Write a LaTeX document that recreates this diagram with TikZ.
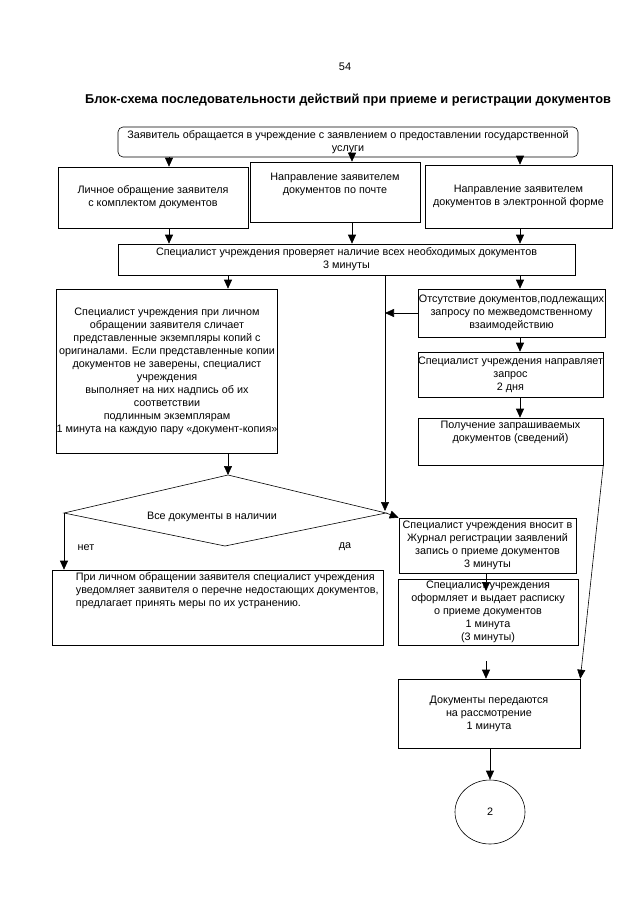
\documentclass[tikz,border=0pt]{standalone}
\usepackage{fontspec}
\setmainfont{Liberation Sans}
\usetikzlibrary{arrows.meta,shapes.geometric}
\newcommand\bxfont{\fontsize{10.8}{13}\selectfont}
\begin{document}
\begin{tikzpicture}[x=1pt,y=-1pt,
  box/.style={draw, line width=0.6pt, inner sep=0pt, align=center, font=\bxfont},
  txt/.style={inner sep=0pt, align=center, font=\bxfont},
  arr/.style={line width=0.6pt, -{Triangle[width=8pt,length=9pt]}},
  ln/.style={line width=0.6pt}]
\fill[white] (0,0) rectangle (640,905);
\useasboundingbox (0,0) rectangle (640,905);

% x positions
\coordinate (xa) at (169,0);
\coordinate (xb) at (352,0);
\coordinate (xc) at (520,0);
\coordinate (xd) at (228,0);
\coordinate (vl) at (385,0);
\coordinate (xe) at (486,0);
\coordinate (xf) at (490,0);

\node[txt, font=\fontsize{11}{13}\selectfont] (pg) at (345,67) {54};
\node[txt, font=\fontsize{12.8}{15}\selectfont\bfseries] (title) at (348,100) {Блок-схема последовательности действий при приеме и регистрации документов};

\node[box, rounded corners=5pt, minimum width=460, minimum height=30] (top) at (348,142)
 {Заявитель обращается в учреждение с заявлением о предоставлении государственной\\услуги};

\node[box, minimum width=190, minimum height=61] (b1) at (153,197.5)
 {Личное обращение заявителя\\с комплектом документов};
\node[box, minimum width=170, minimum height=60] (b2) at (335,192)
 {Направление заявителем\\документов по почте\\[4pt]};
\node[box, minimum width=187, minimum height=63] (b3) at (518.5,196.5)
 {Направление заявителем\\документов в электронной форме};

\node[box, minimum width=457, minimum height=31] (b4) at (346.5,259.5)
 {Специалист учреждения проверяет наличие всех необходимых документов\\3 минуты};

\node[box, minimum width=220, minimum height=164] (b5) at (167,371)
 {Специалист учреждения при личном\\обращении заявителя сличает\\представленные экземпляры копий с\\оригиналами. Если представленные копии\\документов не заверены, специалист\\учреждения\\выполняет на них надпись об их\\соответствии\\подлинным экземплярам\\1 минута на каждую пару «документ-копия»};

\node[box, minimum width=187, minimum height=48] (b6) at (511.5,313)
 {Отсутствие документов,подлежащих\\запросу по межведомственному\\взаимодействию};
\node[box, minimum width=185, minimum height=45] (b7) at (510.5,374.5)
 {Специалист учреждения направляет\\запрос\\2 дня};
\node[box, minimum width=185, minimum height=47] (b9) at (510.5,441.5) {};
\node[txt, anchor=north] (b9t) at ([yshift=-3pt]b9.north)
 {Получение запрашиваемых\\документов (сведений)};

% diamond
\coordinate (dT) at (228,475);
\coordinate (dL) at (64,513);
\coordinate (dR) at (386,513);
\coordinate (dB) at (225,546);
\draw[ln] (dT) -- (dR) -- (dB) -- (dL) -- cycle;
\node[txt] (dtxt) at (212,517) {Все документы в наличии};
\node[txt] (no) at (86,548) {нет};
\node[txt] (yes) at (345,547) {да};

\node[box, minimum width=177, minimum height=55] (b11) at (487.5,545.5)
 {Специалист учреждения вносит в\\Журнал регистрации заявлений\\запись о приеме документов\\3 минуты};
\node[box, minimum width=180, minimum height=66] (b12) at (488,612)
 {Специалист учреждения\\оформляет и выдает расписку\\о приеме документов\\1 минута\\(3 минуты)};

\node[box, minimum width=331, minimum height=75] (b8) at (217.5,607.5) {};
\node[txt, align=left, anchor=north west] (b8t) at ([xshift=24pt,yshift=-3pt]b8.north west)
 {При личном обращении заявителя специалист учреждения\\уведомляет заявителя о перечне недостающих документов,\\предлагает принять меры по их устранению.};

\node[box, minimum width=182, minimum height=69] (b10) at (489,713.5)
 {Документы передаются\\на рассмотрение\\1 минута};
\node[draw, ellipse, line width=0.6pt, minimum width=70, minimum height=64, inner sep=0pt, font=\bxfont] (end) at (490,812) {2};

% connectors
\draw[arr] (top.south -| xa) -- (b1.north -| xa);
\draw[arr] (top.south -| xb) -- (b2.north -| xb);
\draw[arr] (top.south -| xc) -- (b3.north -| xc);
\draw[arr] (b1.south -| xa) -- (b4.north -| xa);
\draw[arr] (b2.south -| xb) -- (b4.north -| xb);
\draw[arr] (b3.south -| xc) -- (b4.north -| xc);
\draw[arr] (b4.south -| xd) -- (b5.north -| xd);
\draw[arr] (b4.south -| xc) -- (b6.north -| xc);
\coordinate (vend) at (385,511);
\draw[arr] (b4.south -| vl) -- (vend);
\draw[arr] (b6.west) -- (b6.west -| vl);
\draw[arr] (b6.south -| xc) -- (b7.north -| xc);
\draw[arr] (b7.south -| xc) -- (b9.north -| xc);
\draw[arr] (b5.south -| xd) -- (dT);
\draw[arr] (dL) -- (b8.north -| dL);
\draw[arr] (dR) -- (b11.north west);
\coordinate (inb12) at (486,591);
\draw[arr] (b11.south -| xe) -- (inb12);
\coordinate (gap) at (486,661);
\draw[arr] (gap) -- (b10.north -| xe);
\draw[arr] (b9.south east) -- (b10.north east);
\draw[arr] (b10.south -| xf) -- (end.north);
\end{tikzpicture}
\end{document}
